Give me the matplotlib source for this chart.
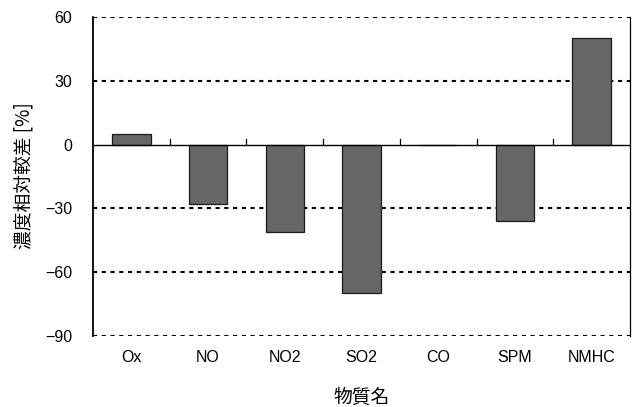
import matplotlib
matplotlib.use("Agg")
import matplotlib.pyplot as plt
import numpy as np

# 物質ごとの濃度相対較差 [%]
substances = ["Ox", "NO", "NO2", "SO2", "CO", "SPM", "NMHC"]
rel_diff = [5, -28, -41, -70, 0, -36, 50]
y_ticks = [60, 30, 0, -30, -60, -90]

plt.rcParams["font.family"] = ["Liberation Sans", "Noto Sans CJK JP", "DejaVu Sans"]
plt.rcParams["axes.unicode_minus"] = True

W, H = 634, 407
fig = plt.figure(figsize=(W / 100, H / 100), dpi=100)
ax = fig.add_axes([93 / W, 1 - 336 / H, (630 - 93) / W, (336 - 17) / H])

x = np.arange(len(substances))
ax.bar(x, rel_diff, width=0.5, color="#666666", edgecolor="#1a1a1a", linewidth=0.9, zorder=3)

ax.set_xlim(-0.5, len(substances) - 0.5)
ax.set_ylim(-90, 60)

# 点線の目盛線（上下の枠も点線）
for v in y_ticks:
    if v != 0:
        ax.axhline(v, color="black", linestyle=(0, (2, 2.2)), linewidth=1.5, zorder=2)
ax.axhline(0, color="black", linewidth=1.0, zorder=4)

# 0 の位置に区切りの目盛
for b in np.arange(0.5, len(substances) - 0.5, 1.0):
    ax.plot([b, b], [0, 2.4], color="black", linewidth=0.9, zorder=4)

ax.spines["top"].set_visible(False)
ax.spines["bottom"].set_visible(False)
ax.spines["left"].set_linewidth(1.3)
ax.spines["right"].set_linewidth(0.9)

ax.set_yticks(y_ticks)
ax.set_yticklabels([f"{v}".replace("-", "\u2212") for v in y_ticks], fontsize=11.5)
ax.tick_params(axis="y", length=0, pad=15)

ax.set_xticks(x)
ax.set_xticklabels(substances, fontsize=11.5)
ax.tick_params(axis="x", length=0, pad=10)

cjk = ["Noto Sans CJK JP", "DejaVu Sans"]
fig.text(24 / W, 1 - 176 / H, "濃度相対較差 [%]", rotation=90, ha="center", va="center",
         fontsize=13.5, family=cjk)
fig.text(362 / W, 1 - 397 / H, "物質名", ha="center", va="center", fontsize=13.5, family=cjk)

fig.savefig("out.png", dpi=100)
